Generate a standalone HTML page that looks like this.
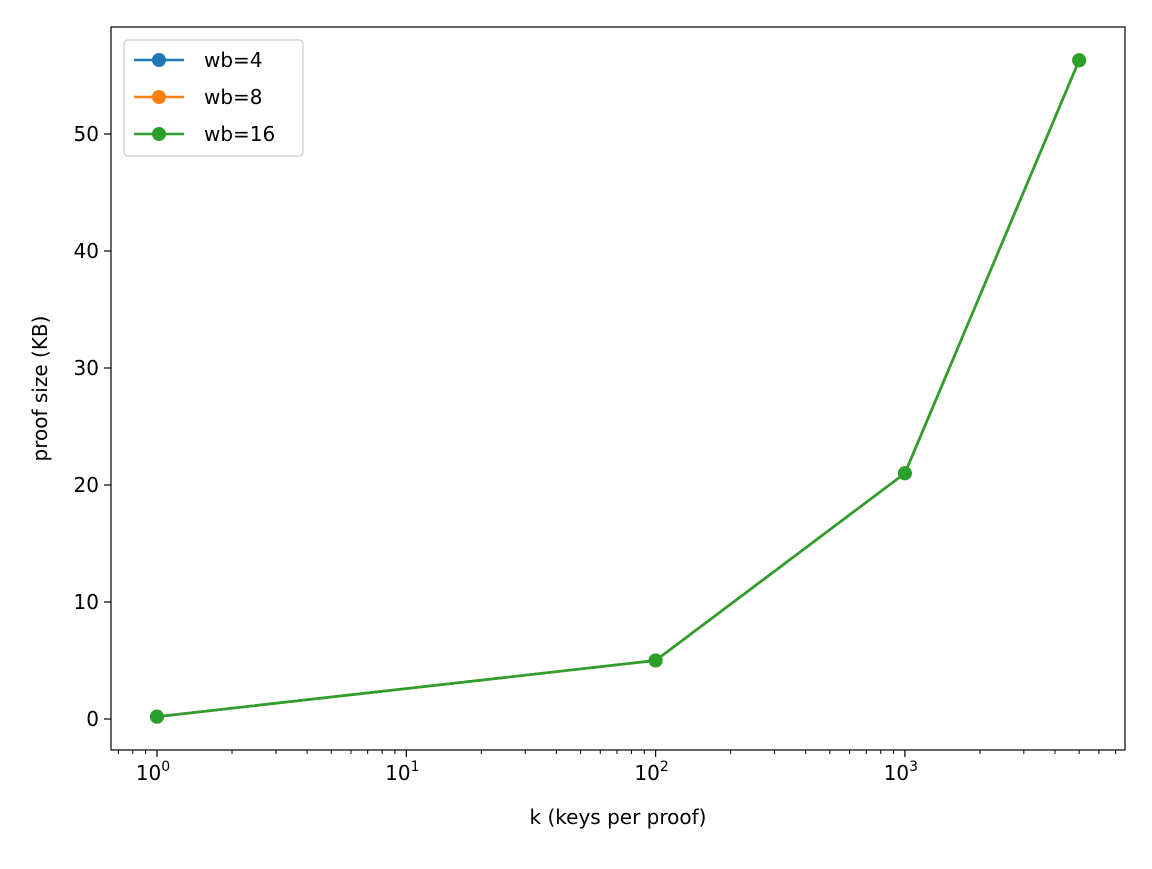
<!DOCTYPE html>
<html><head><meta charset="utf-8"><style>
body{margin:0;background:#fff;}
text{font-family:"DejaVu Sans","Liberation Sans",sans-serif;}
</style></head><body>
<svg id="chart" width="1152" height="864" xmlns="http://www.w3.org/2000/svg">
<rect width="1152" height="864" fill="#fff"/>
<g id="plot"></g>
</svg>
<script>
const categories = [1, 100, 1000, 5000];
const seriesNames = ['wb=4','wb=8','wb=16'];
const series4 = [0.2, 5.0, 21.0, 56.3];
const series8 = [0.2, 5.0, 21.0, 56.3];
const series16 = [0.2, 5.0, 21.0, 56.3];
const yTicks = [0,10,20,30,40,50];
const xTickExps = [0,1,2,3];
const colors = ['#1f77b4','#ff7f0e','#2ca02c'];
const L=111,R=1125,T=27,B=750;
const x0=157, dec=249.3;
function xs(v){return x0+Math.log10(v)*dec;}
function ys(v){return 719-v*11.7;}
const NS='http://www.w3.org/2000/svg';
const g=document.getElementById('plot');
function el(t,a,p){const e=document.createElementNS(NS,t);for(const k in a)e.setAttribute(k,a[k]);(p||g).appendChild(e);return e;}
// minor ticks
for(let e=-1;e<=3;e++)for(let m=2;m<=9;m++){const v=m*Math.pow(10,e);const x=xs(v);if(x<L||x>R)continue;
 const t=el('line',{x1:x,x2:x,y1:B,y2:B+4,stroke:'#000','stroke-width':1});
 }
xTickExps.forEach(e=>{const x=xs(Math.pow(10,e));
 const t=el('line',{x1:x,x2:x,y1:B,y2:B+7,stroke:'#000','stroke-width':1.2});
 
 const tx=el('text',{x:x-4,y:B+30,'font-size':20,'text-anchor':'middle'});
 
 tx.textContent='10';
 const s=el('tspan',{'font-size':14,dy:-9});s.textContent=String(e);tx.appendChild(s);});
yTicks.forEach(v=>{const y=ys(v);
 const t=el('line',{x1:L-7,x2:L,y1:y,y2:y,stroke:'#000','stroke-width':1.2});
 
 const tx=el('text',{x:L-12,y:y+7,'font-size':20,'text-anchor':'end'});
 
 tx.textContent=v;});
const all=[series4,series8,series16];
all.forEach((s,i)=>{
 const pts=categories.map((c,j)=>xs(c)+','+ys(s[j])).join(' ');
 const pl=el('polyline',{points:pts,fill:'none',stroke:colors[i],'stroke-width':2.6});
 
 categories.forEach((c,j)=>{const m=el('circle',{cx:xs(c),cy:ys(s[j]),r:7,fill:colors[i]});
  });
});
const fr=el('rect',{x:L,y:T,width:R-L,height:B-T,fill:'none',stroke:'#000','stroke-width':1.2});

const xl=el('text',{x:(L+R)/2,y:824,'font-size':20,'text-anchor':'middle'});

xl.textContent='k (keys per proof)';
const yl=el('text',{x:47,y:(T+B)/2,'font-size':20,'text-anchor':'middle',transform:'rotate(-90 47 '+((T+B)/2)+')'});

yl.textContent='proof size (KB)';
const lg=el('rect',{x:124,y:40,width:179,height:116,rx:4,fill:'#fff','fill-opacity':0.8,stroke:'#ccc','stroke-width':1.2});

seriesNames.forEach((n,i)=>{const y=60+i*37;
 const ln=el('line',{x1:134,x2:184,y1:y,y2:y,stroke:colors[i],'stroke-width':2.6});
 
 const c=el('circle',{cx:159,cy:y,r:7,fill:colors[i]});
 
 const t=el('text',{x:204,y:y+7,'font-size':20});
 
 t.textContent=n;});
</script>
</body></html>
